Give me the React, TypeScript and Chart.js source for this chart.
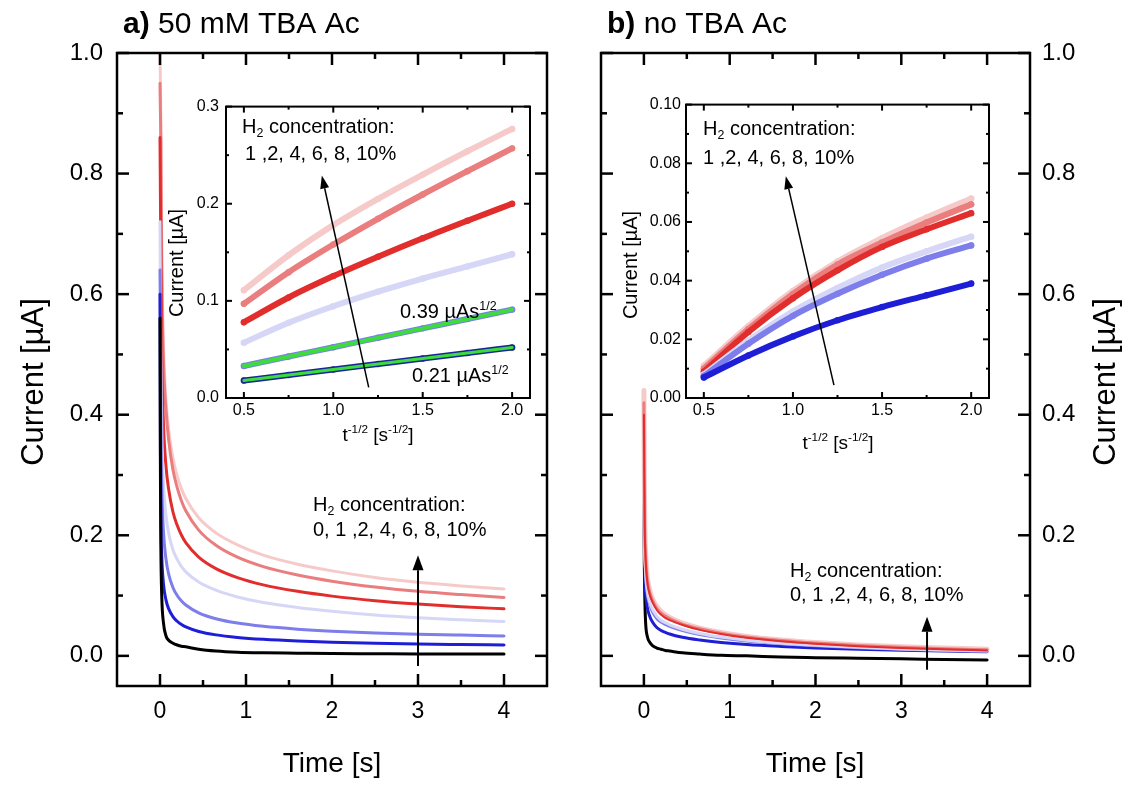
import React, { useEffect, useRef } from "react";
import { Chart, registerables } from "chart.js";

Chart.register(...registerables);

const FONT = '"Liberation Sans", Arial, Helvetica, sans-serif';

// ---------- data: main panels (time in s, current in µA) ----------
const timeS = [0, 0.005, 0.01, 0.02, 0.04, 0.07, 0.1, 0.15, 0.2, 0.25, 0.3, 0.45, 0.65, 0.9, 1.2, 1.6, 2.0, 2.5, 3.0, 3.5, 4.0];

// panel a: 50 mM TBA Ac, H2 = 0,1,2,4,6,8,10 %
const a0 = [0.56, 0.3, 0.18, 0.1, 0.055, 0.033, 0.026, 0.021, 0.018, 0.016, 0.015, 0.011, 0.008, 0.006, 0.005, 0.0045, 0.004, 0.0035, 0.003, 0.003, 0.003];
const a1 = [0.6, 0.34, 0.233, 0.167, 0.12, 0.0924, 0.0783, 0.0652, 0.0574, 0.052, 0.048, 0.0405, 0.0348, 0.0306, 0.0274, 0.0246, 0.0227, 0.021, 0.0197, 0.0188, 0.018];
const a2 = [0.64, 0.56, 0.4, 0.287, 0.207, 0.16, 0.136, 0.1135, 0.1001, 0.091, 0.0843, 0.0713, 0.0616, 0.0544, 0.049, 0.0443, 0.041, 0.0381, 0.036, 0.0344, 0.033];
const a4 = [0.72, 0.6, 0.5, 0.376, 0.286, 0.232, 0.204, 0.176, 0.16, 0.148, 0.1393, 0.1225, 0.1089, 0.0977, 0.0886, 0.0803, 0.074, 0.0678, 0.0633, 0.0599, 0.057];
const a6 = [0.86, 0.76, 0.664, 0.504, 0.386, 0.314, 0.277, 0.239, 0.2165, 0.2, 0.1878, 0.1638, 0.1447, 0.1298, 0.1178, 0.1071, 0.0991, 0.0915, 0.0859, 0.0816, 0.078];
const a8 = [0.95, 0.9, 0.85, 0.64, 0.49, 0.408, 0.359, 0.309, 0.279, 0.257, 0.2406, 0.2086, 0.1834, 0.1637, 0.1481, 0.1342, 0.1239, 0.1142, 0.107, 0.1016, 0.097];
const a10 = [1.0, 0.95, 0.885, 0.672, 0.517, 0.423, 0.376, 0.328, 0.298, 0.277, 0.261, 0.229, 0.204, 0.184, 0.167, 0.152, 0.141, 0.13, 0.122, 0.116, 0.111];

// panel b: no TBA Ac
const b0 = [0.25, 0.15, 0.1, 0.055, 0.032, 0.022, 0.017, 0.013, 0.011, 0.009, 0.008, 0.005, 0.003, 0.001, 0.0, -0.002, -0.003, -0.004, -0.005, -0.006, -0.007];
const b1 = [0.3, 0.2, 0.14, 0.105, 0.08, 0.065, 0.056, 0.047, 0.042, 0.039, 0.0362, 0.0308, 0.0263, 0.0222, 0.0187, 0.0156, 0.0132, 0.011, 0.0093, 0.008, 0.007];
const b2 = [0.34, 0.25, 0.18, 0.135, 0.102, 0.084, 0.073, 0.062, 0.056, 0.052, 0.0489, 0.0418, 0.0352, 0.0296, 0.0247, 0.0201, 0.0166, 0.0133, 0.0109, 0.009, 0.0075];
const b4 = [0.36, 0.26, 0.19, 0.14, 0.107, 0.088, 0.077, 0.066, 0.059, 0.055, 0.0515, 0.0442, 0.0372, 0.0312, 0.026, 0.0211, 0.0175, 0.0141, 0.0115, 0.0096, 0.008];
const b6 = [0.4, 0.29, 0.21, 0.16, 0.122, 0.101, 0.089, 0.076, 0.068, 0.063, 0.0592, 0.0512, 0.0431, 0.0361, 0.03, 0.0244, 0.0202, 0.0161, 0.0132, 0.0109, 0.009];
const b8 = [0.42, 0.295, 0.215, 0.165, 0.126, 0.104, 0.092, 0.079, 0.071, 0.066, 0.0617, 0.0527, 0.0451, 0.0377, 0.0313, 0.0255, 0.0212, 0.0171, 0.0142, 0.0119, 0.01];
const b10 = [0.44, 0.3, 0.22, 0.17, 0.13, 0.108, 0.095, 0.082, 0.074, 0.068, 0.0635, 0.0542, 0.0461, 0.0387, 0.0323, 0.0265, 0.0222, 0.0181, 0.0152, 0.0129, 0.011];

// ---------- data: insets (t^-1/2 in s^-1/2, current in µA) ----------
const insX = [0.5, 0.75, 1.0, 1.25, 1.5, 1.75, 2.0];
const ia1 = [0.018, 0.0237, 0.0293, 0.035, 0.0407, 0.0463, 0.052];
const ia2 = [0.033, 0.0427, 0.0523, 0.062, 0.0717, 0.0813, 0.091];
const ia4 = [0.057, 0.0775, 0.0945, 0.1095, 0.123, 0.1355, 0.148];
const ia6 = [0.078, 0.1035, 0.1255, 0.1455, 0.1645, 0.1825, 0.2];
const ia8 = [0.097, 0.1295, 0.158, 0.1845, 0.2095, 0.2335, 0.257];
const ia10 = [0.111, 0.147, 0.178, 0.205, 0.23, 0.254, 0.277];
const fitX = [0.5, 2.0];
const fitA2 = [0.033, 0.091];
const fitA1 = [0.018, 0.052];

const ib1 = [0.007, 0.0145, 0.021, 0.0265, 0.031, 0.035, 0.039];
const ib2 = [0.0075, 0.0185, 0.028, 0.0355, 0.042, 0.0475, 0.052];
const ib4 = [0.008, 0.0195, 0.0295, 0.0375, 0.0445, 0.05, 0.055];
const ib6 = [0.009, 0.0225, 0.034, 0.0435, 0.0515, 0.0575, 0.063];
const ib8 = [0.01, 0.0235, 0.0355, 0.0455, 0.053, 0.0598, 0.066];
const ib10 = [0.011, 0.0245, 0.0365, 0.0465, 0.0545, 0.0615, 0.068];

// ---------- ticks ----------
const mainXTicks = [0, 1, 2, 3, 4];
const mainXMinor = [0.5, 1.5, 2.5, 3.5];
const mainYTicks = [0, 0.2, 0.4, 0.6, 0.8, 1.0];
const mainYMinor = [0.1, 0.3, 0.5, 0.7, 0.9];
const insXTicks = [0.5, 1.0, 1.5, 2.0];
const insXMinor = [0.75, 1.25, 1.75];
const insAYTicks = [0, 0.1, 0.2, 0.3];
const insAYMinor = [0.05, 0.15, 0.25];
const insBYTicks = [0, 0.02, 0.04, 0.06, 0.08, 0.1];
const insBYMinor = [0.01, 0.03, 0.05, 0.07, 0.09];

// ---------- colours ----------
const C0 = "#000000";
const C1 = "rgb(30,30,215)";
const C2 = "rgb(125,125,235)";
const C4 = "rgb(214,214,246)";
const C6 = "rgb(226,45,45)";
const C8 = "rgb(234,125,125)";
const C10 = "rgb(247,202,202)";
const CFIT = "rgb(60,220,60)";

type Seg = { t: string; sup?: boolean; sub?: boolean; b?: boolean };
type Note = { x: number; y: number; segs: Seg[]; size: number; align?: "left" | "center" | "right"; rot?: number };
type Arrow = { x1: number; y1: number; x2: number; y2: number; lw: number; hl: number; hw: number };

function drawRich(ctx: CanvasRenderingContext2D, n: Note) {
  ctx.save();
  ctx.translate(n.x, n.y);
  if (n.rot) ctx.rotate(n.rot);
  const parts = n.segs.map((s) => {
    const f = s.sup || s.sub ? n.size * 0.62 : n.size;
    const font = `${s.b ? "bold " : ""}${f}px ${FONT}`;
    ctx.font = font;
    return { s, font, w: ctx.measureText(s.t).width };
  });
  const total = parts.reduce((a, p) => a + p.w, 0);
  let cx = n.align === "center" ? -total / 2 : n.align === "right" ? -total : 0;
  ctx.textAlign = "left";
  ctx.textBaseline = "alphabetic";
  ctx.fillStyle = "#000";
  for (const p of parts) {
    ctx.font = p.font;
    const dy = p.s.sup ? -n.size * 0.42 : p.s.sub ? n.size * 0.22 : 0;
    ctx.fillText(p.s.t, cx, dy);
    cx += p.w;
  }
  ctx.restore();
}

function makeFrame(xMaj: number[], xMin: number[], yMaj: number[], yMin: number[], majLen: number, minLen: number, lw: number, fillWhite: boolean) {
  return {
    id: "frame",
    beforeDraw(chart: any) {
      if (!fillWhite) return;
      const { left, top, right, bottom } = chart.chartArea;
      chart.ctx.save();
      chart.ctx.fillStyle = "#fff";
      chart.ctx.fillRect(left, top, right - left, bottom - top);
      chart.ctx.restore();
    },
    afterDatasetsDraw(chart: any) {
      const ctx: CanvasRenderingContext2D = chart.ctx;
      const { left, top, right, bottom } = chart.chartArea;
      const xs = chart.scales.x;
      const ys = chart.scales.y;
      ctx.save();
      ctx.strokeStyle = "#000";
      ctx.lineWidth = lw;
      ctx.lineCap = "butt";
      const seg = (x1: number, y1: number, x2: number, y2: number) => {
        ctx.beginPath();
        ctx.moveTo(x1, y1);
        ctx.lineTo(x2, y2);
        ctx.stroke();
      };
      const xt = (v: number, len: number) => {
        const p = xs.getPixelForValue(v);
        seg(p, bottom, p, bottom - len);
        seg(p, top, p, top + len);
      };
      const yt = (v: number, len: number) => {
        const p = ys.getPixelForValue(v);
        seg(left, p, left + len, p);
        seg(right, p, right - len, p);
      };
      xMaj.forEach((v) => xt(v, majLen));
      xMin.forEach((v) => xt(v, minLen));
      yMaj.forEach((v) => yt(v, majLen));
      yMin.forEach((v) => yt(v, minLen));
      ctx.strokeRect(left, top, right - left, bottom - top);
      ctx.restore();
    },
  };
}

function makeNotes(offX: number, offY: number, notes: Note[], arrows: Arrow[]) {
  return {
    id: "notes",
    afterDraw(chart: any) {
      const ctx: CanvasRenderingContext2D = chart.ctx;
      const xs = chart.scales.x;
      const ys = chart.scales.y;
      for (const a of arrows) {
        const x1 = xs.getPixelForValue(a.x1);
        const y1 = ys.getPixelForValue(a.y1);
        const x2 = xs.getPixelForValue(a.x2);
        const y2 = ys.getPixelForValue(a.y2);
        const ang = Math.atan2(y2 - y1, x2 - x1);
        const bx = x2 - Math.cos(ang) * a.hl;
        const by = y2 - Math.sin(ang) * a.hl;
        ctx.save();
        ctx.strokeStyle = "#000";
        ctx.fillStyle = "#000";
        ctx.lineWidth = a.lw;
        ctx.beginPath();
        ctx.moveTo(x1, y1);
        ctx.lineTo(bx, by);
        ctx.stroke();
        ctx.beginPath();
        ctx.moveTo(x2, y2);
        ctx.lineTo(bx + Math.sin(ang) * a.hw, by - Math.cos(ang) * a.hw);
        ctx.lineTo(bx - Math.sin(ang) * a.hw, by + Math.cos(ang) * a.hw);
        ctx.closePath();
        ctx.fill();
        ctx.restore();
      }
      for (const n of notes) drawRich(ctx, { ...n, x: n.x - offX, y: n.y - offY });
    },
  };
}

// note: in Chart.js the first dataset is drawn on top
function series(xs: number[], ys: number[], color: string, width: number, pr = 0) {
  return {
    data: xs.map((x, i) => ({ x, y: ys[i] })),
    borderColor: color,
    backgroundColor: color,
    borderWidth: width,
    pointRadius: pr,
    pointBorderWidth: 0,
    pointBackgroundColor: color,
    cubicInterpolationMode: "monotone" as const,
    borderCapStyle: "round" as const,
    borderJoinStyle: "round" as const,
    fill: false,
  };
}

type AxisCfg = {
  xMin: number; xMax: number; yMin: number; yMax: number;
  xTicks: number[]; yTicks: number[]; xDec: number; yDec: number;
  xFont: number; yFont: number; xPad: number; yPad: number;
  padding: { left: number; top: number; right: number; bottom: number };
  yWidth: number; xHeight: number; yPos: "left" | "right";
};

function options(c: AxisCfg): any {
  return {
    responsive: false,
    maintainAspectRatio: false,
    animation: false,
    devicePixelRatio: 1,
    layout: { padding: c.padding },
    plugins: { legend: { display: false }, tooltip: { enabled: false }, title: { display: false } },
    scales: {
      x: {
        type: "linear",
        position: "bottom",
        min: c.xMin,
        max: c.xMax,
        grid: { display: false, drawTicks: false },
        border: { display: false },
        ticks: {
          font: { family: FONT, size: c.xFont },
          color: "#000",
          padding: c.xPad,
          maxRotation: 0,
          autoSkip: false,
          callback: (v: any) => Number(v).toFixed(c.xDec),
        },
        afterBuildTicks: (s: any) => {
          s.ticks = c.xTicks.map((v) => ({ value: v }));
        },
        afterFit: (s: any) => {
          s.height = c.xHeight;
        },
      },
      y: {
        type: "linear",
        position: c.yPos,
        min: c.yMin,
        max: c.yMax,
        grid: { display: false, drawTicks: false },
        border: { display: false },
        ticks: {
          font: { family: FONT, size: c.yFont },
          color: "#000",
          padding: c.yPad,
          autoSkip: false,
          callback: (v: any) => Number(v).toFixed(c.yDec),
        },
        afterBuildTicks: (s: any) => {
          s.ticks = c.yTicks.map((v) => ({ value: v }));
        },
        afterFit: (s: any) => {
          s.width = c.yWidth;
        },
      },
    },
  };
}

const H2line: Seg[] = [{ t: "H" }, { t: "2", sub: true }, { t: " concentration:" }];
const tInvTitle: Seg[] = [{ t: "t" }, { t: "-1/2", sup: true }, { t: " [s" }, { t: "-1/2", sup: true }, { t: "]" }];
const ROT = -Math.PI / 2;

function buildMainA(): any {
  return {
    type: "line",
    data: {
      datasets: [
        series(timeS, a0, C0, 3),
        series(timeS, a1, C1, 3),
        series(timeS, a2, C2, 3),
        series(timeS, a4, C4, 3),
        series(timeS, a6, C6, 3),
        series(timeS, a8, C8, 3),
        series(timeS, a10, C10, 3),
      ],
    },
    options: options({
      xMin: -0.5, xMax: 4.5, yMin: -0.05, yMax: 1.0,
      xTicks: mainXTicks, yTicks: mainYTicks, xDec: 0, yDec: 1,
      xFont: 23, yFont: 24, xPad: 12, yPad: 14,
      padding: { left: 0, top: 53, right: 15, bottom: 0 },
      yWidth: 117, xHeight: 100, yPos: "left",
    }),
    plugins: [
      makeFrame(mainXTicks, mainXMinor, mainYTicks, mainYMinor, 12, 6, 2.5, false),
      makeNotes(0, 0, [
        { x: 123, y: 33, segs: [{ t: "a)", b: true }, { t: " 50 mM TBA Ac" }], size: 30 },
        { x: 43, y: 382, segs: [{ t: "Current [µA]" }], size: 31, align: "center", rot: ROT },
        { x: 332, y: 772, segs: [{ t: "Time [s]" }], size: 28, align: "center" },
        { x: 313, y: 511, segs: H2line, size: 20 },
        { x: 313, y: 536, segs: [{ t: "0, 1 ,2, 4, 6, 8, 10%" }], size: 20 },
      ], [{ x1: 3, y1: -0.017, x2: 3, y2: 0.167, lw: 2, hl: 15, hw: 5.5 }]),
    ],
  };
}

function buildMainB(): any {
  return {
    type: "line",
    data: {
      datasets: [
        series(timeS, b6, C6, 2),
        series(timeS, b8, C8, 3),
        series(timeS, b10, C10, 5),
        series(timeS, b4, C4, 3),
        series(timeS, b2, C2, 3),
        series(timeS, b1, C1, 3),
        series(timeS, b0, C0, 3),
      ],
    },
    options: options({
      xMin: -0.5, xMax: 4.5, yMin: -0.05, yMax: 1.0,
      xTicks: mainXTicks, yTicks: mainYTicks, xDec: 0, yDec: 1,
      xFont: 23, yFont: 24, xPad: 12, yPad: 12,
      padding: { left: 39, top: 53, right: 0, bottom: 0 },
      yWidth: 94, xHeight: 100, yPos: "right",
    }),
    plugins: [
      makeFrame(mainXTicks, mainXMinor, mainYTicks, mainYMinor, 12, 6, 2.5, false),
      makeNotes(562, 0, [
        { x: 607, y: 33, segs: [{ t: "b)", b: true }, { t: " no TBA Ac" }], size: 30 },
        { x: 1115, y: 382, segs: [{ t: "Current [µA]" }], size: 31, align: "center", rot: ROT },
        { x: 815, y: 772, segs: [{ t: "Time [s]" }], size: 28, align: "center" },
        { x: 790, y: 577, segs: H2line, size: 20 },
        { x: 790, y: 601, segs: [{ t: "0, 1 ,2, 4, 6, 8, 10%" }], size: 20 },
      ], [{ x1: 3.3, y1: -0.023, x2: 3.3, y2: 0.065, lw: 2, hl: 15, hw: 5.5 }]),
    ],
  };
}

function buildInsetA(): any {
  return {
    type: "line",
    data: {
      datasets: [
        series(fitX, fitA1, CFIT, 3),
        series(fitX, fitA2, CFIT, 4),
        series(insX, ia1, "rgb(25,40,150)", 6, 3.2),
        series(insX, ia2, C2, 6, 3.2),
        series(insX, ia4, C4, 6, 3.2),
        series(insX, ia6, C6, 6, 3.2),
        series(insX, ia8, C8, 6, 3.2),
        series(insX, ia10, C10, 6, 3.2),
      ],
    },
    options: options({
      xMin: 0.4, xMax: 2.1, yMin: 0, yMax: 0.3,
      xTicks: insXTicks, yTicks: insAYTicks, xDec: 1, yDec: 1,
      xFont: 16, yFont: 16, xPad: 3, yPad: 7,
      padding: { left: 0, top: 13, right: 20, bottom: 0 },
      yWidth: 76, xHeight: 62, yPos: "left",
    }),
    plugins: [
      makeFrame(insXTicks, insXMinor, insAYTicks, insAYMinor, 6, 3, 2, true),
      makeNotes(150, 90, [
        { x: 183, y: 263, segs: [{ t: "Current [µA]" }], size: 20, align: "center", rot: ROT },
        { x: 378, y: 441, segs: tInvTitle, size: 19, align: "center" },
        { x: 242, y: 133, segs: H2line, size: 20 },
        { x: 245, y: 160, segs: [{ t: "1 ,2, 4, 6, 8, 10%" }], size: 20 },
        { x: 400, y: 318, segs: [{ t: "0.39 µAs" }, { t: "1/2", sup: true }], size: 20 },
        { x: 412, y: 382, segs: [{ t: "0.21 µAs" }, { t: "1/2", sup: true }], size: 20 },
      ], [{ x1: 1.198, y1: 0.011, x2: 0.936, y2: 0.229, lw: 1.5, hl: 13, hw: 4.5 }]),
    ],
  };
}

function buildInsetB(): any {
  return {
    type: "line",
    data: {
      datasets: [
        series(insX, ib1, C1, 6, 3.2),
        series(insX, ib2, C2, 6, 3.2),
        series(insX, ib4, C4, 6, 3.2),
        series(insX, ib6, C6, 6, 3.2),
        series(insX, ib8, C8, 6, 3.2),
        series(insX, ib10, C10, 6, 3.2),
      ],
    },
    options: options({
      xMin: 0.4, xMax: 2.1, yMin: 0, yMax: 0.1,
      xTicks: insXTicks, yTicks: insBYTicks, xDec: 1, yDec: 2,
      xFont: 16, yFont: 16, xPad: 3, yPad: 5,
      padding: { left: 0, top: 13, right: 21, bottom: 0 },
      yWidth: 76, xHeight: 62, yPos: "left",
    }),
    plugins: [
      makeFrame(insXTicks, insXMinor, insBYTicks, insBYMinor, 6, 3, 2, true),
      makeNotes(610, 90, [
        { x: 637, y: 265, segs: [{ t: "Current [µA]" }], size: 20, align: "center", rot: ROT },
        { x: 838, y: 449, segs: tInvTitle, size: 19, align: "center" },
        { x: 703, y: 135, segs: H2line, size: 20 },
        { x: 703, y: 164, segs: [{ t: "1 ,2, 4, 6, 8, 10%" }], size: 20 },
      ], [{ x1: 1.23, y1: 0.0044, x2: 0.96, y2: 0.0756, lw: 1.5, hl: 13, hw: 4.5 }]),
    ],
  };
}

function ChartBox(props: { left: number; top: number; width: number; height: number; build: () => any }) {
  const ref = useRef<HTMLCanvasElement | null>(null);
  const { left, top, width, height, build } = props;
  useEffect(() => {
    if (!ref.current) return;
    const chart = new Chart(ref.current, build());
    return () => chart.destroy();
  }, [build]);
  return (
    <canvas
      ref={ref}
      width={width}
      height={height}
      style={{ position: "absolute", left, top, width, height, display: "block" }}
    />
  );
}

export default function App() {
  return (
    <div style={{ position: "absolute", left: 0, top: 0, width: 1124, height: 786, background: "#fff", overflow: "hidden" }}>
      <ChartBox left={0} top={0} width={562} height={786} build={buildMainA} />
      <ChartBox left={562} top={0} width={562} height={786} build={buildMainB} />
      <ChartBox left={150} top={90} width={400} height={370} build={buildInsetA} />
      <ChartBox left={610} top={90} width={400} height={370} build={buildInsetB} />
    </div>
  );
}
